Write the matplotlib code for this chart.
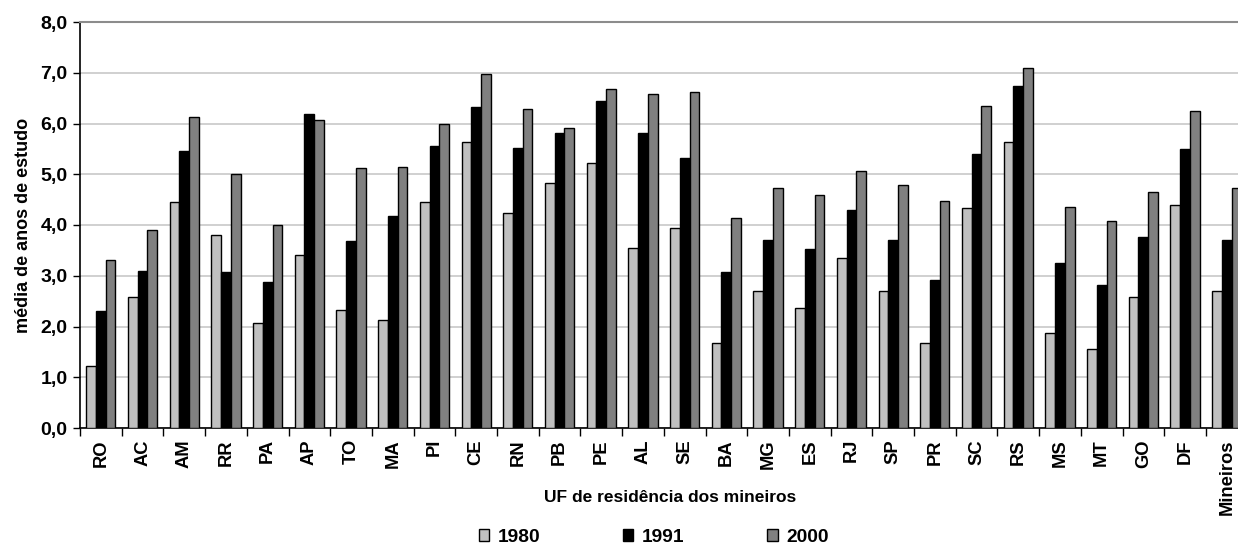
import matplotlib.pyplot as plt
import numpy as np
from matplotlib.ticker import FixedLocator, FuncFormatter

plt.rcParams['font.family'] = ['Liberation Sans', 'DejaVu Sans']
plt.rcParams['font.weight'] = 'bold'

ufs = ['RO', 'AC', 'AM', 'RR', 'PA', 'AP', 'TO', 'MA', 'PI', 'CE', 'RN', 'PB', 'PE', 'AL',
       'SE', 'BA', 'MG', 'ES', 'RJ', 'SP', 'PR', 'SC', 'RS', 'MS', 'MT', 'GO', 'DF', 'Mineiros']
anos_1980 = [1.22, 2.58, 4.45, 3.81, 2.06, 3.41, 2.33, 2.12, 4.45, 5.64, 4.23, 4.82, 5.22, 3.54,
             3.95, 1.68, 2.70, 2.37, 3.34, 2.70, 1.68, 4.33, 5.64, 1.87, 1.56, 2.58, 4.39, 2.70]
anos_1991 = [2.30, 3.09, 5.45, 3.07, 2.87, 6.18, 3.69, 4.18, 5.55, 6.32, 5.51, 5.82, 6.44, 5.82,
             5.33, 3.07, 3.71, 3.53, 4.30, 3.71, 2.92, 5.40, 6.73, 3.25, 2.82, 3.76, 5.49, 3.71]
anos_2000 = [3.32, 3.90, 6.13, 5.00, 4.00, 6.07, 5.12, 5.15, 6.00, 6.97, 6.28, 5.91, 6.68, 6.59,
             6.62, 4.14, 4.72, 4.60, 5.06, 4.78, 4.48, 6.34, 7.09, 4.35, 4.08, 4.66, 6.25, 4.72]

fig = plt.figure(figsize=(12.38, 5.46), dpi=100)
ax = fig.add_axes([80 / 1238, 1 - 428 / 546, 1 - 80 / 1238, (428 - 22) / 546])

x = np.arange(len(ufs))
w = 0.233
series = [(anos_1980, '#c0c0c0', '1980'), (anos_1991, '#000000', '1991'), (anos_2000, '#808080', '2000')]
for k, (vals, cor, lab) in enumerate(series):
    ax.bar(x + (k - 1) * w, vals, width=w, color=cor, edgecolor='black', linewidth=1.0,
           label=lab, zorder=3)

ax.set_ylim(0, 8)
ax.set_xlim(-0.5, (1238 - 80) / 41.7 - 0.5)
ax.set_yticks(np.arange(0, 8.1, 1))
ax.yaxis.set_major_formatter(FuncFormatter(lambda v, p: ('%.1f' % v).replace('.', ',')))
ax.grid(axis='y', color='#c8c8c8', linewidth=1.2, zorder=0)

# ticks between groups, labels in the middle of each group
ax.xaxis.set_major_locator(FixedLocator(np.arange(-0.5, len(ufs), 1)))
ax.xaxis.set_major_formatter(plt.NullFormatter())
ax.xaxis.set_minor_locator(FixedLocator(x))
ax.set_xticklabels(ufs, minor=True, rotation=90, fontsize=13.2, fontweight='bold')
ax.tick_params(axis='x', which='major', length=6, width=1, direction='out')
ax.tick_params(axis='x', which='minor', length=0, pad=8)
ax.tick_params(axis='y', length=5, width=1, labelsize=14, pad=4)
for t in ax.get_yticklabels():
    t.set_fontweight('bold')

ax.spines['right'].set_visible(False)
ax.spines['top'].set_color('#8c8c8c')
ax.spines['top'].set_linewidth(1.5)
ax.spines['left'].set_linewidth(1.2)
ax.spines['bottom'].set_linewidth(1.2)

ax.set_ylabel('média de anos de estudo', fontsize=13, fontweight='bold', labelpad=6)
fig.text(0.541, 1 - 497 / 546, 'UF de residência dos mineiros', ha='center', va='center',
         fontsize=12.5, fontweight='bold')

fig.legend(loc='center', bbox_to_anchor=(0.528, 1 - 537 / 546), ncol=3, frameon=False,
           handlelength=0.55, handleheight=0.6, handletextpad=0.45, columnspacing=4.3,
           prop={'size': 13.8, 'weight': 'bold'})

fig.savefig('out.png', dpi=100)
